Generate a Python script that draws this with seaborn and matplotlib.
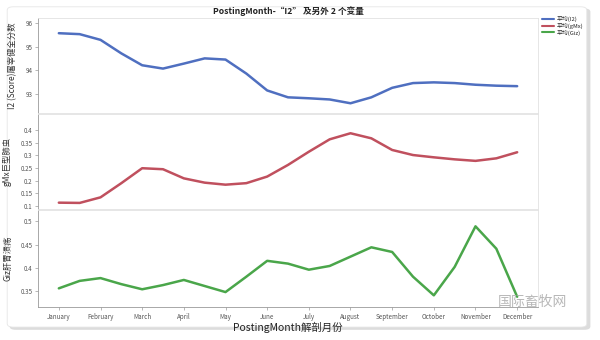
import matplotlib
matplotlib.use("Agg")
import matplotlib.pyplot as plt
import seaborn as sns
import pandas as pd
from matplotlib.patches import FancyBboxPatch
from matplotlib.lines import Line2D

sns.set_theme(style="white")
plt.rcParams['font.family'] = ['Noto Sans CJK SC', 'DejaVu Sans']

months = ["January", "February", "March", "April", "May", "June", "July",
          "August", "September", "October", "November", "December"]
# sample positions along the month axis (month index, read at month and mid-month)
sample_pos = [0, 0.5, 1, 1.5, 2, 2.5, 3, 3.5, 4, 4.5, 5, 5.5, 6, 6.5, 7, 7.5,
              8, 8.5, 9, 9.5, 10, 10.5, 11]
i2_mean = [95.56, 95.52, 95.28, 94.71, 94.21, 94.07, 94.28, 94.50, 94.45, 93.86,
           93.15, 92.86, 92.82, 92.77, 92.61, 92.86, 93.26, 93.46, 93.49, 93.46,
           93.39, 93.35, 93.33]
gmx_mean = [0.113, 0.112, 0.134, 0.190, 0.249, 0.245, 0.209, 0.192, 0.184, 0.190,
            0.216, 0.262, 0.314, 0.363, 0.387, 0.367, 0.321, 0.301, 0.292, 0.284,
            0.278, 0.288, 0.312]
giz_mean = [0.356, 0.372, 0.378, 0.365, 0.354, 0.363, 0.374, 0.361, 0.348, 0.381,
            0.415, 0.409, 0.396, 0.404, 0.424, 0.444, 0.434, 0.381, 0.341, 0.402,
            0.489, 0.441, 0.338]

i2_ticks = [93, 94, 95, 96]
gmx_ticks = [0.1, 0.15, 0.2, 0.25, 0.3, 0.35, 0.4]
giz_ticks = [0.35, 0.4, 0.45, 0.5]

title = "PostingMonth-“I2” 及另外 2 个变量"
xlabel = "PostingMonth解剖月份"
ylabels = ["I2 (Score)屠宰健全分数", "gMx巨型肺虫", "Giz肝胃溃疡"]
legend_labels = ["平均(I2)", "平均(gMx)", "平均(Giz)"]
colors = ["#4f6fc0", "#c0505e", "#4aa64a"]

df = pd.DataFrame({"pos": sample_pos, "I2": i2_mean, "gMx": gmx_mean, "Giz": giz_mean})

fig = plt.figure(figsize=(6, 3.4), dpi=100)
fig.patch.set_facecolor("white")

# card with soft shadow
shadow = FancyBboxPatch((0.016, 0.030), 0.968, 0.945, boxstyle="round,pad=0,rounding_size=0.01",
                        transform=fig.transFigure, facecolor="#dcdcdc", edgecolor="none", zorder=-3)
card = FancyBboxPatch((0.012, 0.038), 0.966, 0.942, boxstyle="round,pad=0,rounding_size=0.01",
                      transform=fig.transFigure, facecolor="white", edgecolor="#e6e6e6", lw=0.6, zorder=-2)
fig.patches.extend([shadow, card])

left, width = 38 / 600, 500 / 600
rects = [(1 - 113 / 340, 95 / 340), (1 - 209 / 340, 95 / 340), (1 - 307 / 340, 97 / 340)]
ylims = [(92.2, 96.2), (0.088, 0.463), (0.316, 0.524)]
tick_sets = [i2_ticks, gmx_ticks, giz_ticks]
cols = ["I2", "gMx", "Giz"]

axes = []
for k in range(3):
    b, h = rects[k]
    ax = fig.add_axes([left, b, width, h])
    ax.set_facecolor("none")
    sns.lineplot(data=df, x="pos", y=cols[k], ax=ax, color=colors[k], lw=1.8,
                 solid_joinstyle="round", solid_capstyle="round")
    ax.set_xlim(-0.5, 11.5)
    ax.set_ylim(*ylims[k])
    ax.set_yticks(tick_sets[k])
    ax.set_yticklabels([f"{v:g}" for v in tick_sets[k]], fontsize=4.5, color="#555555")
    ax.set_ylabel(ylabels[k], fontsize=6, color="#333333", labelpad=6)
    for s in ax.spines.values():
        s.set_color("#e2e2e2")
        s.set_linewidth(0.6)
    ax.spines["left"].set_color("#9a9a9a")
    ax.tick_params(axis="y", length=2, width=0.5, color="#9a9a9a", pad=2, left=True)
    ax.set_xticks(range(12))
    if k < 2:
        ax.set_xticklabels([])
        ax.tick_params(axis="x", length=0)
        ax.set_xlabel("")
    else:
        ax.set_xticklabels(months, fontsize=4.5, color="#555555")
        ax.tick_params(axis="x", length=2, width=0.5, color="#9a9a9a", pad=2, bottom=True)
        ax.spines["bottom"].set_color("#9a9a9a")
        ax.set_xlabel(xlabel, fontsize=7.5, color="#222222", labelpad=1)
    axes.append(ax)

axes[0].set_title(title, fontsize=6.2, fontweight="bold", color="#222222", pad=3)

handles = [Line2D([0], [0], color=c, lw=1.5) for c in colors]
fig.legend(handles, legend_labels, loc="upper left", bbox_to_anchor=(0.897, 0.965),
           fontsize=4.2, frameon=False, handlelength=2.0, handletextpad=0.4,
           labelspacing=0.1, borderpad=0.2)

fig.text(0.945, 0.09, "国际畜牧网", fontsize=10, color="#b8b8b8", ha="right", va="bottom")

fig.savefig("out.png", dpi=100, facecolor="white")
